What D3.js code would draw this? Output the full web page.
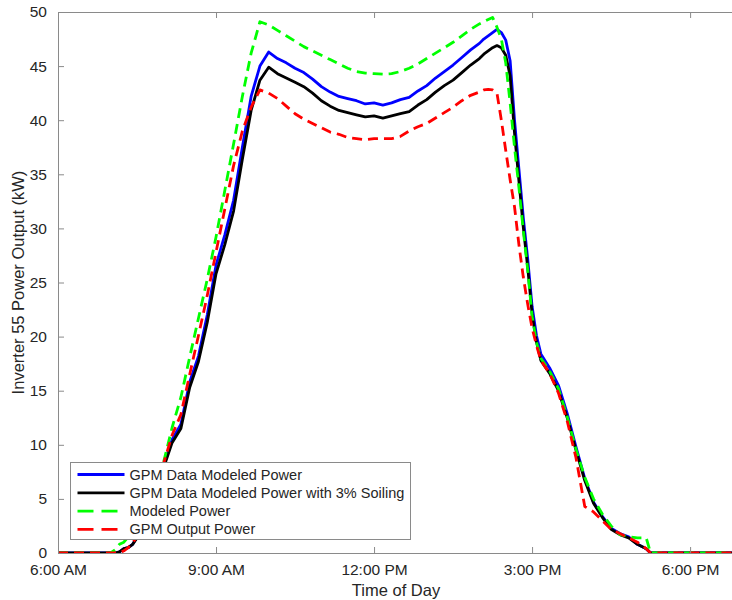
<!DOCTYPE html>
<html>
<head>
<meta charset="utf-8">
<script src="https://cdn.jsdelivr.net/npm/d3@7"></script>
<style>
  body { margin: 0; background: #fff; }
  svg { font-family: "Liberation Sans", Arial, Helvetica, sans-serif; }
</style>
</head>
<body>
<svg id="chart"></svg>
<script>
var w = 732, h = 600;
margin = { top: 12, right: -2, bottom: 47, left: 58 };

// time of day for every sample
var timeOfDay = [
  "6:00", "7:00", "7:05", "7:10", "7:15", "7:20", "7:25", "7:30", "7:40", "7:50",
  "8:00", "8:10", "8:20", "8:30", "8:40", "8:50",
  "9:00", "9:10", "9:20", "9:30", "9:40", "9:50",
  "10:00", "10:10", "10:20", "10:30", "10:40", "10:50",
  "11:00", "11:10", "11:20", "11:30", "11:40", "11:50",
  "12:00", "12:10", "12:20", "12:30", "12:40", "12:50",
  "13:00", "13:10", "13:20", "13:30", "13:40", "13:50",
  "14:00", "14:05", "14:10", "14:15", "14:20", "14:25", "14:30", "14:35", "14:40", "14:45", "14:50", "14:55",
  "15:00", "15:05", "15:10", "15:20", "15:30", "15:40", "15:50",
  "16:00", "16:10", "16:20", "16:30", "16:40", "16:50",
  "17:00", "17:10", "17:15", "17:20", "18:50"
];

var gpmModeled = [
  0, 0, 0, 0.1, 0.4, 0.5, 0.8, 1.5, 3.5, 5.8,
  8.0, 10.5, 11.9, 15.8, 18.2, 22.0,
  26.6, 29.4, 32.6, 37.5, 42.2, 45.0,
  46.3, 45.7, 45.3, 44.8, 44.4, 43.8,
  43.1, 42.6, 42.2, 42.0, 41.8, 41.5,
  41.6, 41.4, 41.6, 41.9, 42.1, 42.7,
  43.2, 43.9, 44.5, 45.1, 45.8, 46.5,
  47.1, 47.5, 47.8, 48.1, 48.4, 48.1, 47.4, 45.5, 40.0, 35.5, 31.0, 27.2,
  22.8, 20.1, 18.4, 17.1, 15.5, 12.9, 9.8,
  6.9, 4.7, 3.4, 2.3, 1.8, 1.5,
  0.8, 0.4, 0, 0, 0
];

var gpmSoiling = [
  0, 0, 0, 0.1, 0.4, 0.5, 0.8, 1.4, 3.4, 5.6,
  7.8, 10.2, 11.5, 15.3, 17.7, 21.3,
  25.8, 28.5, 31.6, 36.4, 40.9, 43.7,
  44.9, 44.3, 43.9, 43.5, 43.1, 42.5,
  41.8, 41.3, 40.9, 40.7, 40.5, 40.3,
  40.4, 40.2, 40.4, 40.6, 40.8, 41.4,
  41.9, 42.6, 43.2, 43.7, 44.4, 45.1,
  45.7, 46.1, 46.4, 46.7, 46.9, 46.7, 46.0, 44.1, 38.8, 34.4, 30.1, 26.4,
  22.1, 19.5, 17.8, 16.6, 15.0, 12.5, 9.5,
  6.7, 4.6, 3.3, 2.2, 1.7, 1.4,
  0.8, 0.4, 0, 0, 0
];

var modeledPower = [
  0, 0, 0.3, 0.8, 1.0, 1.5, 2.4, 3.3, 5.2, 7.0,
  8.3, 11.6, 14.4, 18.1, 21.7, 25.3,
  29.2, 33.5, 37.8, 42.2, 46.2, 49.1,
  48.8, 48.3, 47.8, 47.3, 46.8, 46.4,
  46.0, 45.6, 45.2, 44.8, 44.5, 44.35,
  44.3, 44.25, 44.3, 44.5, 44.8, 45.2,
  45.7, 46.2, 46.7, 47.2, 47.8, 48.4,
  48.9, 49.1, 49.3, 49.5, 48.6, 47.5, 45.3, 41.6, 37.5, 33.8, 29.8, 26.2,
  21.9, 19.5, 18.0, 16.8, 15.2, 12.6, 9.6,
  7.0, 5.0, 3.6, 2.5, 1.7, 1.5,
  1.4, 1.4, 0, 0, 0
];

var gpmOutput = [
  0, 0, 0, 0, 0.2, 0.5, 0.9, 1.6, 3.6, 6.0,
  8.2, 10.9, 12.8, 16.5, 20.1, 23.8,
  27.8, 31.8, 35.8, 39.0, 41.2, 42.8,
  42.5, 42.0, 41.3, 40.6, 40.1, 39.7,
  39.3, 38.9, 38.7, 38.4, 38.3, 38.2,
  38.3, 38.3, 38.3, 38.5, 39.0, 39.4,
  39.7, 40.2, 40.7, 41.2, 41.8, 42.3,
  42.6, 42.8, 42.85, 42.8, 42.5, 40.0, 37.2, 34.5, 32.0, 28.5, 25.5, 23.0,
  20.8, 19.2, 17.8, 16.6, 14.8, 12.2, 8.8,
  4.3, 3.8, 3.0, 2.2, 1.8, 1.4,
  1.0, 0.4, 0, 0, 0
];

var seriesNames = ["GPM Data Modeled Power", "GPM Data Modeled Power with 3% Soiling", "Modeled Power", "GPM Output Power"];
var xTicks = [6, 9, 12, 15, 18];
var xTickLabels = ["6:00 AM", "9:00 AM", "12:00 PM", "3:00 PM", "6:00 PM"];
var yTicks = [0, 5, 10, 15, 20, 25, 30, 35, 40, 45, 50];

function toHours(s) {
  var p = s.split(":");
  return +p[0] + (+p[1]) / 60;
}
var hours = timeOfDay.map(toHours);

var series = [
  { name: seriesNames[0], values: gpmModeled, color: "#0000ff", dash: null },
  { name: seriesNames[1], values: gpmSoiling, color: "#000000", dash: null },
  { name: seriesNames[2], values: modeledPower, color: "#00ff00", dash: "10,6" },
  { name: seriesNames[3], values: gpmOutput, color: "#ff0000", dash: "10,6" }
];

var svg = d3.select("#chart").attr("width", w).attr("height", h);

var x = d3.scaleLinear()
  .domain([6, 18 + 50 / 60])
  .range([margin.left, w - margin.right]);
var y = d3.scaleLinear()
  .domain([0, 50])
  .range([h - margin.bottom, margin.top]);

var axisColor = "#8a8a8a";
var textColor = "#262626";

// lines
var line = d3.line()
  .x(function(d, i) { return x(hours[i]); })
  .y(function(d) { return y(d); });

svg.append("defs").append("clipPath").attr("id", "clip")
  .append("rect")
  .attr("x", margin.left).attr("y", margin.top - 4)
  .attr("width", w - margin.left - margin.right)
  .attr("height", h - margin.top - margin.bottom + 4);

svg.append("g").attr("clip-path", "url(#clip)")
  .selectAll("path")
  .data(series)
  .enter()
  .append("path")
  .attr("d", function(d) { return line(d.values); })
  .attr("fill", "none")
  .attr("stroke", function(d) { return d.color; })
  .attr("stroke-width", 2.8)
  .attr("stroke-linejoin", "round")
  .attr("stroke-dasharray", function(d) { return d.dash; });

// axes (ticks point inward, like matlab)
var gx = svg.append("g")
  .attr("transform", "translate(0," + (h - margin.bottom) + ")")
  .call(d3.axisBottom(x).tickValues(xTicks).tickSizeInner(-6).tickSizeOuter(0).tickPadding(11)
    .tickFormat(function(d, i) { return xTickLabels[i]; }));

var gxTop = svg.append("g")
  .attr("transform", "translate(0," + margin.top + ")")
  .call(d3.axisTop(x).tickValues(xTicks).tickSizeInner(-6).tickSizeOuter(0).tickFormat(""));

var gy = svg.append("g")
  .attr("transform", "translate(" + margin.left + ",0)")
  .call(d3.axisLeft(y).tickValues(yTicks).tickSizeInner(-6).tickSizeOuter(0).tickPadding(11));

[gx, gxTop, gy].forEach(function(g) {
  g.select(".domain").attr("stroke", axisColor);
  g.selectAll(".tick line").attr("stroke", axisColor);
  g.selectAll("text")
    .attr("fill", textColor)
    .style("font-size", "15.5px")
    .style("font-family", "'Liberation Sans', Arial, sans-serif");
});

// axis labels
svg.append("text")
  .attr("x", (margin.left + w + 2) / 2)
  .attr("y", 596)
  .attr("text-anchor", "middle")
  .attr("fill", textColor)
  .style("font-size", "16.5px")
  .text("Time of Day");

svg.append("text")
  .attr("transform", "translate(24," + (margin.top + (h - margin.bottom - margin.top) / 2) + ") rotate(-90)")
  .attr("text-anchor", "middle")
  .attr("fill", textColor)
  .style("font-size", "16.5px")
  .text("Inverter 55 Power Output (kW)");

// legend
var legend = svg.append("g").attr("transform", "translate(70.5,462.5)");
legend.append("rect")
  .attr("width", 340)
  .attr("height", 77)
  .attr("fill", "#fff")
  .attr("stroke", axisColor);

var rows = legend.selectAll(".row")
  .data(series)
  .enter()
  .append("g")
  .attr("class", "row")
  .attr("transform", function(d, i) { return "translate(0," + (12 + i * 18.3) + ")"; });

rows.append("line")
  .attr("x1", 7).attr("x2", 54)
  .attr("stroke", function(d) { return d.color; })
  .attr("stroke-width", 2.8)
  .attr("stroke-dasharray", function(d) { return d.dash ? "16,8" : null; });

rows.append("text")
  .attr("x", 59)
  .attr("y", 5)
  .attr("fill", textColor)
  .style("font-size", "14.5px")
  .text(function(d) { return d.name; });
</script>
</body>
</html>
